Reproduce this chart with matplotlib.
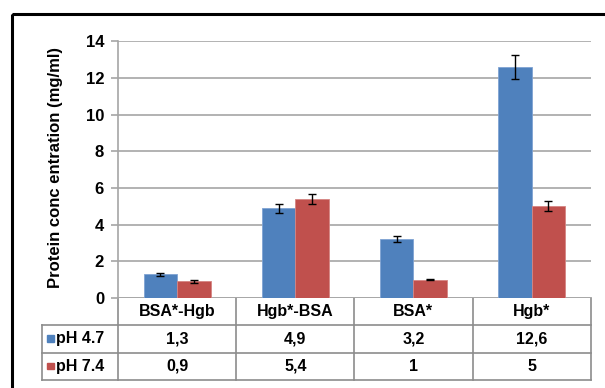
import matplotlib
matplotlib.use("Agg")
import matplotlib.pyplot as plt
from matplotlib.patches import Rectangle
from matplotlib.lines import Line2D
from matplotlib.transforms import blended_transform_factory

plt.rcParams['font.family'] = ['Liberation Sans', 'DejaVu Sans']

categories = ["BSA*-Hgb", "Hgb*-BSA", "BSA*", "Hgb*"]
series_names = ["pH 4.7", "pH 7.4"]
ph47 = [1.3, 4.9, 3.2, 12.6]
ph74 = [0.9, 5.4, 1.0, 5.0]
ph47_err = [0.09, 0.24, 0.16, 0.65]
ph74_err = [0.09, 0.26, 0.02, 0.27]
ph47_labels = ["1,3", "4,9", "3,2", "12,6"]
ph74_labels = ["0,9", "5,4", "1", "5"]
yticks = [0, 2, 4, 6, 8, 10, 12, 14]

blue = "#4F81BD"
red = "#C0504D"
grid_c = "#A6A6A6"
table_c = "#8C8C8C"

W, H = 605, 388
fig = plt.figure(figsize=(W / 100, H / 100), dpi=100)
fig.patch.set_facecolor("white")

# overlay in pixel coordinates for frame and table
ov = fig.add_axes([0, 0, 1, 1])
ov.set_xlim(0, W)
ov.set_ylim(H, 0)
ov.axis("off")

x0, x1 = 118, 590.7
y_top, y_zero = 41.3, 298
ax = fig.add_axes([x0 / W, (H - y_zero) / H, (x1 - x0) / W, (y_zero - y_top) / H])
ax.set_xlim(-0.5, len(categories) - 0.5)
ax.set_ylim(0, 14)
ax.set_facecolor("none")

xs = list(range(len(categories)))
bw = 0.283
ax.bar([x - bw / 2 for x in xs], ph47, width=bw, color=blue, edgecolor="#7FA3D3",
       linewidth=0.6, zorder=3)
ax.bar([x + bw / 2 for x in xs], ph74, width=bw, color=red, edgecolor="#D58583",
       linewidth=0.6, zorder=3)
ax.errorbar([x - bw / 2 for x in xs], ph47, yerr=ph47_err, fmt="none", ecolor="black",
            elinewidth=1.0, capsize=2.8, capthick=1.0, zorder=4)
ax.errorbar([x + bw / 2 for x in xs], ph74, yerr=ph74_err, fmt="none", ecolor="black",
            elinewidth=1.0, capsize=2.8, capthick=1.0, zorder=4)

ax.set_yticks(yticks)
ax.set_yticklabels([str(t) for t in yticks], fontsize=12, fontweight="bold")
ax.yaxis.grid(True, color=grid_c, linewidth=1.2, zorder=0)
ax.set_xticks([])
for s in ["top", "right", "bottom"]:
    ax.spines[s].set_visible(False)
ax.spines["left"].set_color(grid_c)
ax.spines["left"].set_linewidth(1.2)
ax.tick_params(axis="y", length=5, width=1.2, color=grid_c, pad=5)
ax.axhline(0, color=grid_c, linewidth=1.2, zorder=2)

# axis title placed in pixel coordinates
ov.text(56, 168, "Protein conc entration (mg/ml)", fontsize=12, fontweight="bold",
        rotation=90, ha="center", va="center")

# data table beneath the plot
tr = blended_transform_factory(ax.transData, ov.transData)
row_y = [298, 324.5, 352.5, 380]
tbl_left = 42
lkw = dict(color=table_c, linewidth=1.2, zorder=5)
# vertical column borders
for i in range(len(categories) + 1):
    ov.add_line(Line2D([i - 0.5, i - 0.5], [row_y[0], row_y[-1]], transform=tr, **lkw))
ov.add_line(Line2D([tbl_left, tbl_left], [row_y[1], row_y[-1]], **lkw))
# horizontal row borders
for yy in row_y[1:]:
    ov.add_line(Line2D([tbl_left, x1], [yy, yy], **lkw))

tfont = dict(fontsize=11.5, fontweight="bold", ha="center", va="center")
hy = (row_y[0] + row_y[1]) / 2
r1 = (row_y[1] + row_y[2]) / 2
r2 = (row_y[2] + row_y[3]) / 2
for i, c in enumerate(categories):
    ov.text(i, hy, c, transform=tr, **tfont)
    ov.text(i, r1, ph47_labels[i], transform=tr, **tfont)
    ov.text(i, r2, ph74_labels[i], transform=tr, **tfont)

for name, col, yy in zip(series_names, [blue, red], [r1, r2]):
    ov.add_patch(Rectangle((47, yy - 3.5), 6.5, 6.5, color=col, zorder=5))
    ov.text(56, yy, name, fontsize=11.5, fontweight="bold", ha="left", va="center")

# outer black frame
ov.add_patch(Rectangle((12, 14), 620, 400, fill=False, edgecolor="black",
                       linewidth=2.2, clip_on=False))

fig.savefig("out.png", dpi=100)
